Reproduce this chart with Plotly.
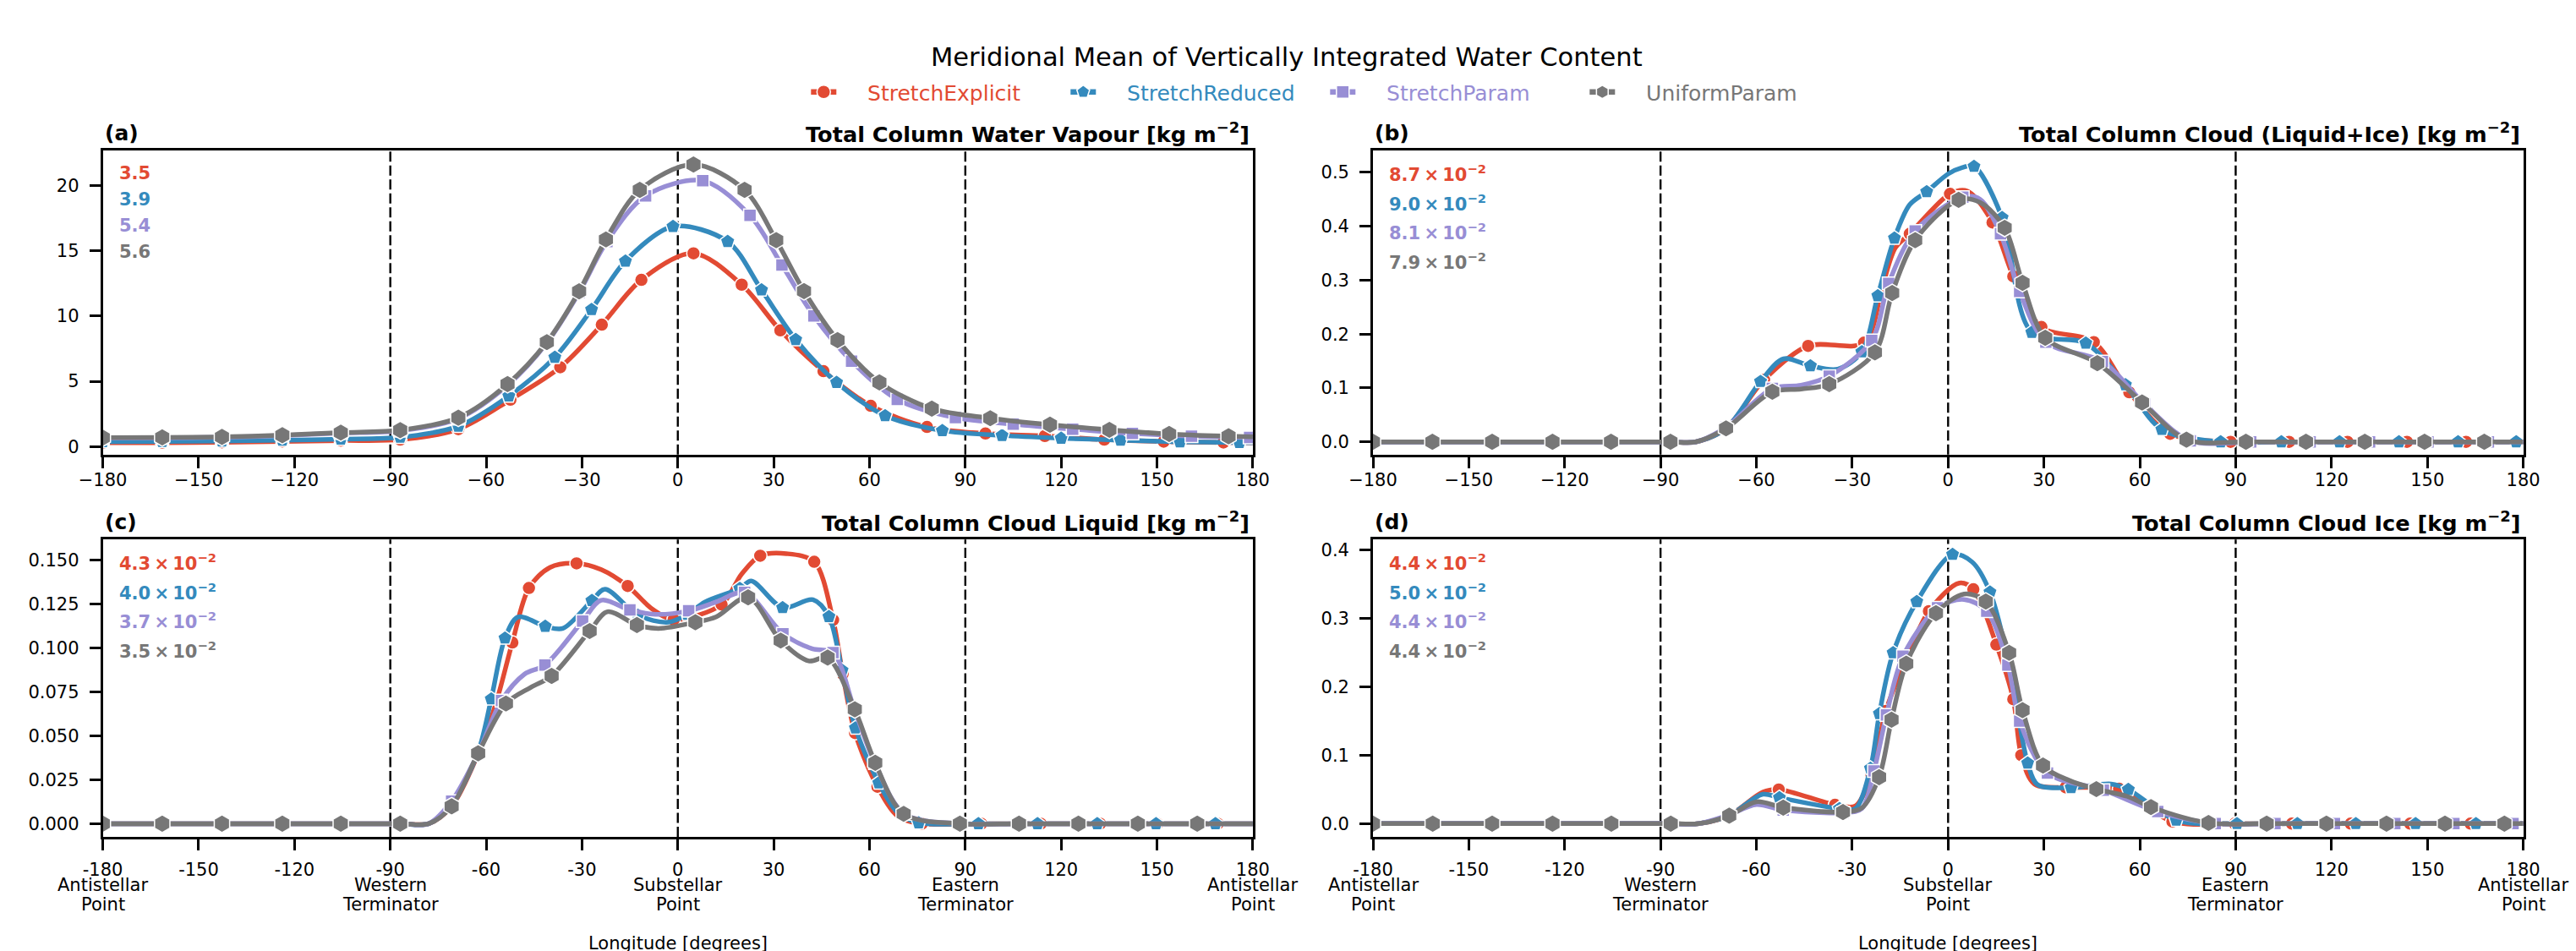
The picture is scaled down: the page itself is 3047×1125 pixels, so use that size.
import plotly.graph_objects as go

FIG_W, FIG_H = 3047, 1125

# ---------------- data ----------------
SERIES = ["StretchExplicit", "StretchReduced", "StretchParam", "UniformParam"]
COLORS = ["#E24A33", "#348ABD", "#988ED5", "#777777"]
SYMBOLS = ["circle", "pentagon", "square", "hexagon"]

XTICKS = [-180, -150, -120, -90, -60, -30, 0, 30, 60, 90, 120, 150, 180]
XTICK_TOP = ["\u2212180", "\u2212150", "\u2212120", "\u221290", "\u221260", "\u221230", "0",
             "30", "60", "90", "120", "150", "180"]
XTICK_BOTTOM = ["-180", "-150", "-120", "-90", "-60", "-30", "0", "30", "60", "90", "120", "150", "180"]
NAMED_LON = [-180, -90, 0, 90, 180]
NAMED_LINE1 = ["Antistellar", "Western", "Substellar", "Eastern", "Antistellar"]
NAMED_LINE2 = ["Point", "Terminator", "Point", "Terminator", "Point"]
TERMINATORS = [-90, 0, 90]

A_YTICKS = [0, 5, 10, 15, 20]
A_YTEXT = ["0", "5", "10", "15", "20"]
B_YTICKS = [0.0, 0.1, 0.2, 0.3, 0.4, 0.5]
B_YTEXT = ["0.0", "0.1", "0.2", "0.3", "0.4", "0.5"]
C_YTICKS = [0.0, 0.025, 0.05, 0.075, 0.1, 0.125, 0.15]
C_YTEXT = ["0.000", "0.025", "0.050", "0.075", "0.100", "0.125", "0.150"]
D_YTICKS = [0.0, 0.1, 0.2, 0.3, 0.4]
D_YTEXT = ["0.0", "0.1", "0.2", "0.3", "0.4"]

TITLES = ["Total Column Water Vapour [kg m<sup>\u22122</sup>]",
          "Total Column Cloud (Liquid+Ice) [kg m<sup>\u22122</sup>]",
          "Total Column Cloud Liquid [kg m<sup>\u22122</sup>]",
          "Total Column Cloud Ice [kg m<sup>\u22122</sup>]"]
LETTERS = ["(a)", "(b)", "(c)", "(d)"]

STAT_A = ["3.5", "3.9", "5.4", "5.6"]
STAT_B = ["8.7", "9.0", "8.1", "7.9"]
STAT_C = ["4.3", "4.0", "3.7", "3.5"]
STAT_D = ["4.4", "5.0", "4.4", "4.4"]
STAT_EXP = [None, -2, -2, -2]

# panel (a) : total column water vapour
a_red_lon = [-180, -161.4, -142.7, -123.8, -105.5, -86.9, -68.7, -52.4, -36.8, -23.8, -11.4, 4.9, 20.0, 32.1, 45.6, 60.4, 78.0, 96.3, 114.9, 133.5, 152.1, 170.8]
a_red_val = [0.30, 0.31, 0.34, 0.40, 0.47, 0.54, 1.34, 3.60, 6.08, 9.34, 12.77, 14.80, 12.40, 8.90, 5.78, 3.13, 1.51, 1.01, 0.82, 0.54, 0.39, 0.32]
a_red_xlon = [180]
a_red_xval = [0.30]
a_blue_lon = [-180, -161.4, -142.7, -123.8, -105.5, -86.9, -68.7, -52.9, -38.5, -27.0, -16.4, -1.5, 15.6, 26.2, 36.9, 49.7, 64.9, 82.8, 101.5, 120.0, 138.6, 157.2, 175.8]
a_blue_val = [0.38, 0.40, 0.43, 0.50, 0.58, 0.72, 1.57, 3.88, 6.84, 10.50, 14.20, 16.85, 15.70, 12.00, 8.20, 4.92, 2.37, 1.23, 0.86, 0.65, 0.50, 0.37, 0.32]
a_blue_xlon = [180]
a_blue_xval = [0.31]
a_purple_lon = [-180, -161.4, -142.7, -123.8, -105.5, -86.9, -68.7, -53.3, -41.0, -30.9, -22.2, -10.1, 7.8, 22.6, 32.6, 42.6, 54.4, 68.7, 86.9, 105.0, 123.6, 142.3, 160.8, 179.0]
a_purple_val = [0.66, 0.68, 0.72, 0.85, 1.04, 1.22, 2.15, 4.70, 7.95, 11.80, 15.70, 19.20, 20.35, 17.70, 13.90, 10.00, 6.54, 3.62, 2.22, 1.73, 1.34, 1.01, 0.80, 0.71]
a_purple_xlon = [180]
a_purple_xval = [0.71]
a_gray_lon = [-180, -161.4, -142.7, -123.8, -105.5, -86.9, -68.7, -53.3, -41.0, -30.9, -22.5, -11.9, 4.9, 20.9, 30.8, 39.5, 50.0, 63.1, 79.5, 97.8, 116.5, 135.1, 153.8, 172.4]
a_gray_val = [0.69, 0.71, 0.75, 0.88, 1.08, 1.27, 2.22, 4.79, 8.00, 11.89, 15.86, 19.65, 21.60, 19.65, 15.80, 11.90, 8.16, 4.92, 2.91, 2.18, 1.68, 1.29, 0.97, 0.80]
a_gray_xlon = [180]
a_gray_xval = [0.75]

# panel (b) : total column cloud (liquid + ice)
b_red_lon = [-180, -161.4, -142.7, -123.8, -105.5, -86.9, -69.5, -57.6, -43.8, -26.3, -12.0, 0.6, 13.9, 20.4, 29.2, 45.6, 56.7, 69.5, 88.4, 106.7, 125.0, 143.6, 162.1]
b_red_val = [0, 0, 0, 0, 0, 0, 0.025, 0.115, 0.178, 0.184, 0.386, 0.460, 0.407, 0.307, 0.213, 0.185, 0.092, 0.015, 0, 0, 0, 0, 0]
b_red_xlon = [-79, -20.5, -16.5, 6.0, 180]
b_red_xval = [0, 0.290, 0.360, 0.465, 0]
b_blue_lon = [-180, -161.4, -142.7, -123.8, -105.5, -86.9, -69.5, -58.7, -43.1, -27.0, -22.0, -16.8, -6.7, 8.1, 16.9, 26.2, 43.1, 55.5, 66.9, 85.3, 104.3, 122.5, 141.1, 159.6, 177.8]
b_blue_val = [0, 0, 0, 0, 0, 0, 0.025, 0.112, 0.141, 0.167, 0.271, 0.378, 0.464, 0.511, 0.416, 0.203, 0.183, 0.106, 0.023, 0, 0, 0, 0, 0, 0]
b_blue_xlon = [-79, -51.5, -34.5, -12.0, 0.0, 4.5, 180]
b_blue_xval = [0, 0.154, 0.135, 0.440, 0.497, 0.509, 0]
b_purple_lon = [-180, -161.4, -142.7, -123.8, -105.5, -86.9, -69.5, -55.0, -37.2, -23.9, -18.6, -10.3, 4.6, 16.4, 22.4, 30.6, 48.3, 61.5, 75.8, 94.7, 113.3, 131.9, 150.2, 169.1]
b_purple_val = [0, 0, 0, 0, 0, 0, 0.027, 0.099, 0.122, 0.188, 0.294, 0.391, 0.454, 0.386, 0.279, 0.185, 0.149, 0.070, 0.002, 0, 0, 0, 0, 0]
b_purple_xlon = [-79, -46, 10, 180]
b_purple_xval = [0, 0.105, 0.450, 0]
b_gray_lon = [-180, -161.4, -142.7, -123.8, -105.5, -86.9, -69.5, -55.0, -37.2, -22.9, -17.5, -10.3, 3.3, 17.7, 23.3, 30.4, 46.7, 60.7, 74.6, 93.2, 112.0, 130.4, 149.1, 167.8]
b_gray_val = [0, 0, 0, 0, 0, 0, 0.025, 0.093, 0.107, 0.166, 0.276, 0.374, 0.449, 0.397, 0.295, 0.193, 0.146, 0.073, 0.004, 0, 0, 0, 0, 0]
b_gray_xlon = [-79, -46, 10, 180]
b_gray_xval = [0, 0.098, 0.444, 0]

# panel (c) : total column cloud liquid
c_red_lon = [-180, -161.4, -142.7, -123.8, -105.5, -86.9, -70.8, -62.7, -51.8, -46.6, -31.7, -15.7, -1.3, 13.7, 25.8, 42.7, 48.6, 51.6, 55.5, 62.5, 76.4, 95.0, 113.6, 132.2, 150.1, 169.0]
c_red_val = [0, 0, 0, 0, 0, 0, 0.0099, 0.039, 0.103, 0.134, 0.148, 0.1351, 0.116, 0.1246, 0.1523, 0.1489, 0.1158, 0.0852, 0.0515, 0.021, 0, 0, 0, 0, 0, 0]
c_red_xlon = [-78, -57, -40, -24, -8, 20, 34, 69, 180]
c_red_xval = [0, 0.068, 0.1457, 0.1445, 0.122, 0.142, 0.1535, 0.004, 0]
c_blue_lon = [-180, -161.4, -142.7, -123.8, -105.5, -86.9, -70.8, -62.5, -58.4, -54.1, -41.5, -26.9, -12.5, 3.0, 19.4, 32.8, 47.3, 51.4, 55.6, 62.9, 75.4, 94.1, 112.6, 131.3, 149.7, 168.3]
c_blue_val = [0, 0, 0, 0, 0, 0, 0.011, 0.0408, 0.0709, 0.1055, 0.1122, 0.1268, 0.1185, 0.119, 0.1337, 0.1228, 0.1177, 0.0872, 0.0544, 0.0232, 0.0005, 0, 0, 0, 0, 0]
c_blue_xlon = [-78, -50, -36, -22.8, -3, 8.5, 23, 42.3, 69, 180]
c_blue_xval = [0, 0.1175, 0.111, 0.1333, 0.1145, 0.126, 0.138, 0.1273, 0.006, 0]
c_purple_lon = [-180, -161.4, -142.7, -123.8, -105.5, -86.9, -70.8, -62.5, -55.2, -41.6, -29.8, -15.0, 3.4, 20.9, 32.9, 48.6, 55.3, 61.7, 70.9, 88.6, 106.9, 125.4, 144.0, 162.6]
c_purple_val = [0, 0, 0, 0, 0, 0, 0.0128, 0.040, 0.070, 0.0902, 0.1152, 0.1215, 0.121, 0.1315, 0.108, 0.0972, 0.0648, 0.0344, 0.0056, 0, 0, 0, 0, 0]
c_purple_xlon = [-78, -48, -24, -7, 12, 42, 180]
c_purple_xval = [0, 0.085, 0.127, 0.119, 0.126, 0.0995, 0]
c_gray_lon = [-180, -161.4, -142.7, -123.8, -105.5, -86.9, -70.8, -62.5, -53.8, -39.5, -27.6, -12.8, 5.5, 22.0, 32.2, 46.9, 55.4, 61.8, 70.7, 88.3, 106.8, 125.4, 144.0, 162.6]
c_gray_val = [0, 0, 0, 0, 0, 0, 0.0099, 0.040, 0.0683, 0.084, 0.1095, 0.1129, 0.1145, 0.1287, 0.1041, 0.0944, 0.065, 0.0346, 0.0056, 0, 0, 0, 0, 0]
c_gray_xlon = [-78, -46, -22, -6, 12, 41, 180]
c_gray_xval = [0, 0.0775, 0.1205, 0.111, 0.1176, 0.0925, 0]

# panel (d) : total column cloud ice
d_red_lon = [-180, -161.3, -142.7, -123.8, -105.4, -86.8, -68.5, -53.0, -35.4, -24.0, -19.5, -13.7, -6.0, 7.9, 15.1, 20.4, 22.9, 36.8, 53.5, 70.2, 89.7, 107.6, 126.0, 144.6, 163.5]
d_red_val = [0, 0, 0, 0, 0, 0, 0.012, 0.050, 0.0275, 0.072, 0.165, 0.234, 0.311, 0.343, 0.262, 0.182, 0.100, 0.053, 0.051, 0.003, 0, 0, 0, 0, 0]
d_red_xlon = [-78, -58, -29, 3.5, 27, 45, 180]
d_red_xval = [0, 0.046, 0.026, 0.352, 0.058, 0.053, 0]
d_blue_lon = [-180, -161.3, -142.7, -123.8, -105.4, -86.8, -68.5, -52.8, -34.0, -24.3, -21.5, -17.2, -9.8, 1.4, 13.1, 24.9, 38.5, 56.4, 71.4, 90.4, 109.3, 127.6, 146.3, 165.2]
d_blue_val = [0, 0, 0, 0, 0, 0, 0.012, 0.038, 0.022, 0.081, 0.161, 0.250, 0.325, 0.394, 0.339, 0.0887, 0.0527, 0.050, 0.005, 0, 0, 0, 0, 0]
d_blue_xlon = [-78, -58, -29, 7.5, 19, 28, 51, 180]
d_blue_xval = [0, 0.043, 0.022, 0.383, 0.235, 0.057, 0.058, 0]
d_purple_lon = [-180, -161.3, -142.7, -123.8, -105.4, -86.8, -68.5, -51.6, -32.8, -23.2, -19.3, -14.1, -3.3, 12.1, 18.7, 22.4, 31.1, 48.6, 65.6, 83.6, 102.3, 120.9, 139.8, 158.3, 176.8]
d_purple_val = [0, 0, 0, 0, 0, 0, 0.013, 0.020, 0.016, 0.077, 0.159, 0.245, 0.316, 0.311, 0.232, 0.150, 0.074, 0.049, 0.0177, 0, 0, 0, 0, 0, 0]
d_purple_xlon = [-78, -60, -27, 5, 180]
d_purple_xval = [0, 0.028, 0.022, 0.328, 0]
d_gray_lon = [-180, -161.3, -142.7, -123.8, -105.4, -86.8, -68.5, -51.6, -32.9, -21.6, -17.7, -13.1, -3.8, 11.8, 19.1, 23.3, 29.7, 46.4, 63.5, 81.5, 99.7, 118.4, 137.2, 155.5, 174.1]
d_gray_val = [0, 0, 0, 0, 0, 0, 0.0118, 0.0235, 0.017, 0.068, 0.152, 0.234, 0.308, 0.325, 0.250, 0.166, 0.085, 0.0505, 0.0242, 0.001, 0, 0, 0, 0, 0]
d_gray_xlon = [-78, -60, -27, 5, 38, 56, 180]
d_gray_xval = [0, 0.032, 0.023, 0.336, 0.063, 0.040, 0]

# ---------------- layout geometry (pixels) ----------------
COL_X = [(121.6, 1481.9), (1624.0, 2984.6)]
ROW_Y = [(178.3, 537.7), (638.3, 990.0)]

def px_x(p):
    return p / FIG_W

def px_y(p):
    return 1 - p / FIG_H

MSIZE = [16, 18, 15, 21]
LINE_W = 5.5

panels = [
    dict(col=0, row=0, yrange=[-0.6, 22.65], yt=A_YTICKS, ytt=A_YTEXT, xtt=XTICK_TOP, stats=STAT_A, exp=STAT_EXP[0],
         series=[(a_red_lon, a_red_val, a_red_xlon, a_red_xval), (a_blue_lon, a_blue_val, a_blue_xlon, a_blue_xval),
                 (a_purple_lon, a_purple_val, a_purple_xlon, a_purple_xval), (a_gray_lon, a_gray_val, a_gray_xlon, a_gray_xval)]),
    dict(col=1, row=0, yrange=[-0.0235, 0.540], yt=B_YTICKS, ytt=B_YTEXT, xtt=XTICK_TOP, stats=STAT_B, exp=STAT_EXP[1],
         series=[(b_red_lon, b_red_val, b_red_xlon, b_red_xval), (b_blue_lon, b_blue_val, b_blue_xlon, b_blue_xval),
                 (b_purple_lon, b_purple_val, b_purple_xlon, b_purple_xval), (b_gray_lon, b_gray_val, b_gray_xlon, b_gray_xval)]),
    dict(col=0, row=1, yrange=[-0.0075, 0.1615], yt=C_YTICKS, ytt=C_YTEXT, xtt=XTICK_BOTTOM, stats=STAT_C, exp=STAT_EXP[2],
         series=[(c_red_lon, c_red_val, c_red_xlon, c_red_xval), (c_blue_lon, c_blue_val, c_blue_xlon, c_blue_xval),
                 (c_purple_lon, c_purple_val, c_purple_xlon, c_purple_xval), (c_gray_lon, c_gray_val, c_gray_xlon, c_gray_xval)]),
    dict(col=1, row=1, yrange=[-0.0194, 0.4157], yt=D_YTICKS, ytt=D_YTEXT, xtt=XTICK_BOTTOM, stats=STAT_D, exp=STAT_EXP[3],
         series=[(d_red_lon, d_red_val, d_red_xlon, d_red_xval), (d_blue_lon, d_blue_val, d_blue_xlon, d_blue_xval),
                 (d_purple_lon, d_purple_val, d_purple_xlon, d_purple_xval), (d_gray_lon, d_gray_val, d_gray_xlon, d_gray_xval)]),
]

FONT = "DejaVu Sans"
fig = go.Figure()
layout = dict(width=FIG_W, height=FIG_H, autosize=False, margin=dict(l=0, r=0, t=0, b=0, pad=0),
              paper_bgcolor="white", plot_bgcolor="white",
              font=dict(family=FONT, color="black", size=21))
shapes = []
annotations = []

for i, p in enumerate(panels):
    n = "" if i == 0 else str(i + 1)
    xname, yname = "x" + n, "y" + n
    x0, x1 = COL_X[p["col"]]
    y0, y1 = ROW_Y[p["row"]]
    axis_common = dict(showline=True, linecolor="black", linewidth=2.7, mirror=True,
                       ticks="outside", ticklen=13, tickwidth=2.5, tickcolor="black",
                       showgrid=False, zeroline=False, tickfont=dict(size=21, family=FONT),
                       fixedrange=True, automargin=False)
    layout["xaxis" + n] = dict(axis_common, domain=[px_x(x0), px_x(x1)], range=[-180, 180],
                               tickmode="array", tickvals=XTICKS, ticktext=p["xtt"],
                               anchor=yname, ticklabelstandoff=-4 if p["row"] == 0 else 5)
    layout["yaxis" + n] = dict(axis_common, domain=[px_y(y1), px_y(y0)], range=p["yrange"],
                               tickmode="array", tickvals=p["yt"], ticktext=p["ytt"],
                               anchor=xname, ticklabelstandoff=8)
    for t in TERMINATORS:
        shapes.append(dict(type="line", xref=xname, yref=yname + " domain", x0=t, x1=t, y0=0, y1=1,
                           line=dict(color="black", width=2.4, dash="12px,4.5px"), layer="below"))
    for k, (lon, val, xlon, xval) in enumerate(p["series"]):
        pts = sorted(zip(list(lon) + list(xlon), list(val) + list(xval)))
        fig.add_trace(go.Scatter(x=[q[0] for q in pts], y=[q[1] for q in pts], mode="lines",
                                 line=dict(color=COLORS[k], width=LINE_W, shape="spline", smoothing=0.9),
                                 xaxis=xname, yaxis=yname, showlegend=False, hoverinfo="skip"))
        fig.add_trace(go.Scatter(x=lon, y=val, mode="markers",
                                 marker=dict(symbol=SYMBOLS[k], size=MSIZE[k], color=COLORS[k],
                                             line=dict(color="white", width=1.5)),
                                 xaxis=xname, yaxis=yname, showlegend=False, hoverinfo="skip"))
    # panel letter and title
    ty = y0 - 21
    annotations.append(dict(text="<b>" + LETTERS[i] + "</b>", x=px_x(x0), y=px_y(ty), xref="paper", yref="paper",
                            xanchor="left", yanchor="middle", showarrow=False, font=dict(size=25, family=FONT)))
    annotations.append(dict(text="<b>" + TITLES[i] + "</b>", x=px_x(x1 - 2), y=px_y(ty), xref="paper", yref="paper",
                            xanchor="right", yanchor="middle", showarrow=False, font=dict(size=25.6, family=FONT)))
    # statistics
    for k, s in enumerate(p["stats"]):
        if p["exp"] is None:
            txt = "<b>" + s + "</b>"
            yy = y0 + 27 + 31 * k
        else:
            txt = "<b>" + s + "\u2009\u00d7\u200910<sup>\u2212" + str(abs(p["exp"])) + "</sup></b>"
            yy = y0 + 27 + 34.5 * k
        annotations.append(dict(text=txt, x=px_x(x0 + 17), y=px_y(yy), xref="paper", yref="paper",
                                xanchor="left", yanchor="middle", showarrow=False,
                                font=dict(size=21, family=FONT, color=COLORS[k])))
    if p["row"] == 1:
        for lon_n, l1, l2 in zip(NAMED_LON, NAMED_LINE1, NAMED_LINE2):
            annotations.append(dict(text=l1, x=lon_n, y=px_y(y1 + 56.5), xref=xname, yref="paper",
                                    xanchor="center", yanchor="middle", showarrow=False,
                                    font=dict(size=21, family=FONT)))
            annotations.append(dict(text=l2, x=lon_n, y=px_y(y1 + 79.5), xref=xname, yref="paper",
                                    xanchor="center", yanchor="middle", showarrow=False,
                                    font=dict(size=21, family=FONT)))
        annotations.append(dict(text="Longitude [degrees]", x=px_x((x0 + x1) / 2), y=px_y(1116),
                                xref="paper", yref="paper", xanchor="center", yanchor="middle",
                                showarrow=False, font=dict(size=21, family=FONT)))

annotations.append(dict(text="Meridional Mean of Vertically Integrated Water Content", x=0.4995, y=px_y(67),
                        xref="paper", yref="paper", xanchor="center", yanchor="middle", showarrow=False,
                        font=dict(size=30.5, family=FONT)))

# legend entries
PAD = "\u00a0\u00a0\u00a0\u00a0"
for k, name in enumerate(SERIES):
    fig.add_trace(go.Scatter(x=[None], y=[None], mode="lines+markers",
                             name=PAD + "<span style='color:" + COLORS[k] + "'>" + name + "</span>",
                             line=dict(color=COLORS[k], width=LINE_W + 1),
                             marker=dict(symbol=SYMBOLS[k], size=MSIZE[k], color=COLORS[k],
                                         line=dict(color="white", width=1.5)),
                             xaxis="x", yaxis="y", showlegend=True))

layout["shapes"] = shapes
layout["annotations"] = annotations
layout["showlegend"] = True
layout["legend"] = dict(orientation="h", x=0.5147, xanchor="center", y=px_y(109), yanchor="middle",
                        font=dict(size=25, family=FONT), bgcolor="rgba(0,0,0,0)",
                        entrywidth=262, entrywidthmode="pixels", itemclick=False, itemdoubleclick=False)
fig.update_layout(**layout)
fig.write_html("out.html", config={"displayModeBar": False},
               post_script="document.body.style.margin='0px';document.body.style.overflow='hidden';")
